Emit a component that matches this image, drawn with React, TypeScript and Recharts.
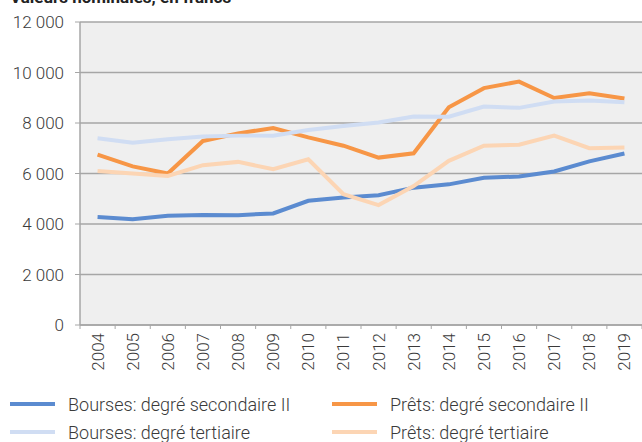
import React from "react";
import { LineChart, Line, XAxis, YAxis, CartesianGrid, Legend } from "recharts";

const years = ["2004","2005","2006","2007","2008","2009","2010","2011","2012","2013","2014","2015","2016","2017","2018","2019"];
const boursesSec = [4280, 4190, 4330, 4360, 4350, 4420, 4920, 5050, 5140, 5440, 5570, 5830, 5880, 6080, 6480, 6790];
const pretsSec = [6750, 6280, 6000, 7290, 7590, 7800, 7430, 7100, 6630, 6800, 8620, 9380, 9640, 8990, 9180, 8970];
const boursesTert = [7400, 7220, 7360, 7470, 7500, 7500, 7720, 7880, 8020, 8260, 8250, 8650, 8600, 8850, 8890, 8820];
const pretsTert = [6100, 6000, 5900, 6330, 6460, 6170, 6560, 5180, 4750, 5500, 6500, 7100, 7140, 7500, 7000, 7030];
const yTicks = [0, 2000, 4000, 6000, 8000, 10000, 12000];

const seriesNames = {
  bs: "Bourses: degré secondaire II",
  ps: "Prêts: degré secondaire II",
  bt: "Bourses: degré tertiaire",
  pt: "Prêts: degré tertiaire",
};
const colors = { bs: "#5B8BD0", ps: "#F79646", bt: "#D0DDF3", pt: "#FCD5B4" };

const data = years.map((y, i) => ({
  year: y,
  bs: boursesSec[i],
  ps: pretsSec[i],
  bt: boursesTert[i],
  pt: pretsTert[i],
}));

const FONT = "Roboto, 'DejaVu Sans', sans-serif";
const TEXT = "#3a3a3a";
const GRID = "#A6A6A6";
const TICK_SIZE = 3;
const TICK_MARGIN = 5;

const fmt = (v: number) => {
  const s = String(v);
  return s.length > 3 ? s.slice(0, s.length - 3) + " " + s.slice(-3) : s;
};

const XTick = (props: any) => {
  const { x, y, payload, index, visibleTicksCount } = props;
  const off = payload && payload.offset ? payload.offset : 0;
  const axisY = y - TICK_SIZE - TICK_MARGIN;
  const last = index === (visibleTicksCount ?? years.length) - 1;
  return (
    <g>
      <line x1={x - off} x2={x - off} y1={axisY} y2={axisY + TICK_SIZE + 1} stroke={GRID} strokeWidth={1} />
      {last ? (
        <line x1={x + off} x2={x + off} y1={axisY} y2={axisY + TICK_SIZE + 1} stroke={GRID} strokeWidth={1} />
      ) : null}
      <g transform={`translate(${x},${y})`}>
        <text
          transform="rotate(-90)"
          textAnchor="end"
          dy="0.35em"
          fill={TEXT}
          fontSize={17}
          fontFamily={FONT}
          fontWeight={300}
        >
          {payload.value}
        </text>
      </g>
    </g>
  );
};

const legendRows: [keyof typeof colors, keyof typeof colors][] = [
  ["bs", "ps"],
  ["bt", "pt"],
];

const LegendContent = () => (
  <div style={{ fontFamily: FONT, fontWeight: 300, fontSize: 18, color: TEXT }}>
    {legendRows.map((row, r) => (
      <div key={r} style={{ display: "flex", height: 28, alignItems: "center" }}>
        {row.map((k, c) => (
          <div key={k} style={{ display: "flex", alignItems: "center", width: c === 0 ? 322 : 310, paddingLeft: 10, boxSizing: "border-box", whiteSpace: "nowrap" }}>
            <div style={{ width: 45, height: 4, background: colors[k], marginRight: 13, flex: "none" }} />
            <span>{seriesNames[k]}</span>
          </div>
        ))}
      </div>
    ))}
  </div>
);

export default function App() {
  return (
    <div style={{ position: "absolute", left: 0, top: 0, width: 642, height: 442, overflow: "hidden", background: "#fff" }}>
      <div
        style={{
          position: "absolute",
          left: 10,
          top: -13,
          fontFamily: FONT,
          fontWeight: 700,
          fontSize: 17,
          color: "#222",
          whiteSpace: "nowrap",
          lineHeight: "20px",
        }}
      >
        Valeurs nominales, en francs
      </div>
      <LineChart width={642} height={442} data={data} margin={{ top: 22, right: 0, bottom: 0, left: 0 }}>
        <CartesianGrid vertical={false} stroke={GRID} strokeWidth={1.5} fill="#EFEFEF" fillOpacity={1} />
        <XAxis
          dataKey="year"
          scale="band"
          interval={0}
          height={117}
          tickLine={false}
          tickSize={TICK_SIZE}
          tickMargin={TICK_MARGIN}
          axisLine={{ stroke: GRID, strokeWidth: 1.5 }}
          tick={<XTick />}
        />
        <YAxis
          width={80}
          domain={[0, 12000]}
          ticks={yTicks}
          interval={0}
          tickFormatter={fmt}
          tickSize={5}
          tickMargin={11}
          axisLine={{ stroke: GRID, strokeWidth: 1.5 }}
          tickLine={{ stroke: GRID }}
          tick={{ fill: TEXT, fontSize: 17, fontFamily: FONT, fontWeight: 300 }}
        />
        <Legend
          layout="horizontal"
          verticalAlign="middle"
          align="center"
          content={<LegendContent />}
          wrapperStyle={{ top: 390, left: 0, width: 642 }}
        />
        <Line dataKey="bs" name={seriesNames.bs} stroke={colors.bs} strokeWidth={4} dot={false} isAnimationActive={false} />
        <Line dataKey="ps" name={seriesNames.ps} stroke={colors.ps} strokeWidth={4} dot={false} isAnimationActive={false} />
        <Line dataKey="bt" name={seriesNames.bt} stroke={colors.bt} strokeWidth={4} dot={false} isAnimationActive={false} />
        <Line dataKey="pt" name={seriesNames.pt} stroke={colors.pt} strokeWidth={4} dot={false} isAnimationActive={false} />
      </LineChart>
    </div>
  );
}
